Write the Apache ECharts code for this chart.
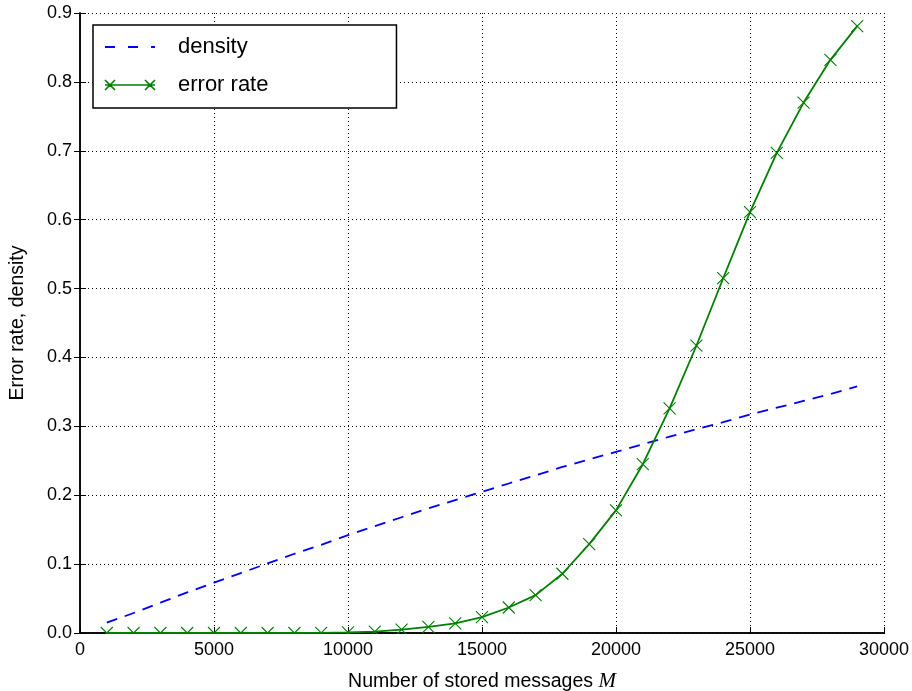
<!DOCTYPE html>
<html>
<head>
<meta charset="utf-8">
<script src="https://cdn.jsdelivr.net/npm/echarts@6/dist/echarts.min.js"></script>
<style>html,body{margin:0;padding:0;background:#fff}#c{width:912px;height:691px}</style>
</head>
<body>
<div id="c"></div>
<script>
const messages = [1000,2000,3000,4000,5000,6000,7000,8000,9000,10000,11000,12000,13000,14000,15000,16000,17000,18000,19000,20000,21000,22000,23000,24000,25000,26000,27000,28000,29000];
const density = [0.015,0.029,0.044,0.059,0.073,0.087,0.101,0.115,0.128,0.142,0.155,0.168,0.181,0.193,0.205,0.217,0.229,0.241,0.252,0.263,0.274,0.285,0.296,0.306,0.317,0.327,0.337,0.347,0.358];
const errorRate = [0,0,0,0,0,0,0,0,0.0003,0.001,0.002,0.005,0.009,0.014,0.023,0.037,0.055,0.086,0.129,0.178,0.245,0.326,0.417,0.515,0.611,0.697,0.770,0.832,0.881];
const xTicks = {min:0, max:30000, interval:5000};
const yTicks = {min:0, max:0.9, interval:0.1};

const FONT = 'Liberation Sans';
const chart = echarts.init(document.getElementById('c'));
const tickStyle = {show:true, inside:true, length:6, lineStyle:{color:'#000', width:1}};
const axisLine = {show:true, lineStyle:{color:'#000', width:1.5}};
const gridLine = {show:true, lineStyle:{color:'#000', width:1, type:[1,3]}};
const xMark = 'path://M0,0L10,10M10,0L0,10';
const legendErrIcon = 'path://M0,0L10,10M10,0L0,10M0,5L50,5M40,0L50,10M50,0L40,10';

chart.setOption({
  animation:false,
  backgroundColor:'#fff',
  textStyle:{fontFamily:FONT},
  grid:{left:80, right:28, top:13, bottom:58, containLabel:false, outerBoundsMode:'none'},
  legend:{
    left:93, top:25, orient:'vertical',
    backgroundColor:'#fff', borderColor:'#000', borderWidth:1.5, borderRadius:0,
    padding:[10,128,11,11],
    itemWidth:50, itemHeight:12, itemGap:14,
    textStyle:{fontFamily:FONT, fontSize:22, color:'#000', lineHeight:24, padding:[0,0,0,18]},
    data:[
      {name:'density', itemStyle:{color:'rgba(0,0,0,0)', borderColor:'rgba(0,0,0,0)'}, lineStyle:{type:[10,13]}},
      {name:'error rate', icon:legendErrIcon, itemStyle:{color:'rgba(0,0,0,0)', borderColor:'#008000', borderWidth:1.6}}
    ]
  },
  xAxis:[{
    type:'value', min:xTicks.min, max:xTicks.max, interval:xTicks.interval,
    axisLine:axisLine, axisTick:tickStyle, splitLine:gridLine,
    axisLabel:{color:'#000', fontSize:18, fontFamily:FONT, margin:8, formatter:v=>String(v)},
    name:'{a|Number of stored messages }{m|M}', nameLocation:'middle', nameGap:38,
    nameTextStyle:{rich:{a:{fontSize:19.5, fontFamily:FONT, color:'#000'}, m:{fontSize:21, fontFamily:'Liberation Serif', fontStyle:'italic', color:'#000'}}}
  },{
    type:'value', position:'top', min:xTicks.min, max:xTicks.max, interval:xTicks.interval,
    axisLine:axisLine, axisTick:tickStyle, splitLine:{show:false}, axisLabel:{show:false}
  }],
  yAxis:[{
    type:'value', min:yTicks.min, max:yTicks.max, interval:yTicks.interval,
    axisLine:axisLine, axisTick:tickStyle, splitLine:gridLine,
    axisLabel:{color:'#000', fontSize:18, fontFamily:FONT, margin:8, formatter:v=>v.toFixed(1)},
    name:'Error rate, density', nameLocation:'middle', nameGap:52, nameRotate:90,
    nameTextStyle:{fontSize:19.5, fontFamily:FONT, color:'#000'}
  },{
    type:'value', position:'right', min:yTicks.min, max:yTicks.max, interval:yTicks.interval,
    axisLine:axisLine, axisTick:tickStyle, splitLine:{show:false}, axisLabel:{show:false}
  }],
  series:[{
    name:'density', type:'line', xAxisIndex:0, yAxisIndex:0,
    data:messages.map((m,i)=>[m,density[i]]),
    showSymbol:false, symbol:'none',
    lineStyle:{color:'#0000ff', width:1.8, type:[11,8]},
    itemStyle:{color:'#0000ff'}
  },{
    name:'error rate', type:'line', xAxisIndex:0, yAxisIndex:0,
    data:messages.map((m,i)=>[m,errorRate[i]]),
    symbol:xMark, symbolSize:12, showAllSymbol:true,
    lineStyle:{color:'#008000', width:1.8},
    itemStyle:{color:'#008000', borderColor:'#008000', borderWidth:1.1}
  }]
});

// mask the part of markers that falls below the bottom axis (as matplotlib clips them)
const p0 = chart.convertToPixel({gridIndex:0}, [xTicks.min, yTicks.min]);
const p1 = chart.convertToPixel({gridIndex:0}, [xTicks.max, yTicks.min]);
chart.setOption({
  graphic:[{type:'rect', z:100, silent:true,
    shape:{x:p0[0]-8, y:p0[1]+1, width:p1[0]-p0[0]+16, height:7},
    style:{fill:'#fff'}}]
});
</script>
</body>
</html>
